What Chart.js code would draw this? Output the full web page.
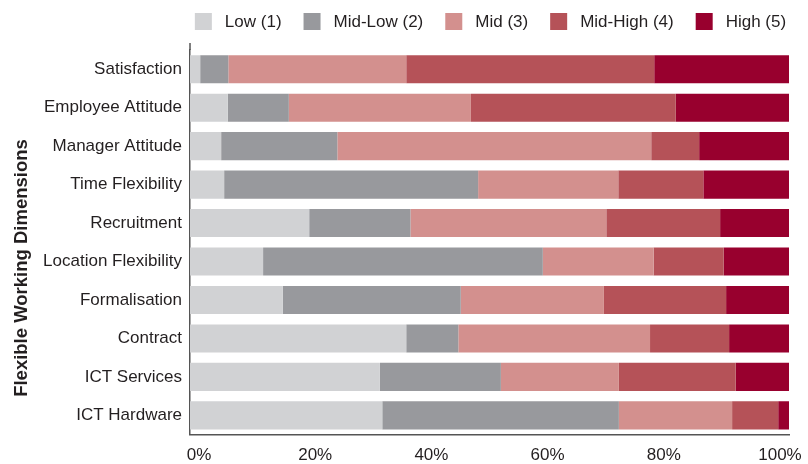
<!DOCTYPE html>
<html>
<head>
<meta charset="utf-8">
<script src="https://cdn.jsdelivr.net/npm/chart.js@4.4.1/dist/chart.umd.min.js"></script>
<style>
  html, body { margin: 0; padding: 0; background: #fff; }
  #dims { display: block; }
</style>
</head>
<body>
<canvas id="dims" width="808" height="464"></canvas>
<script>
// share of answers per dimension, in percent
var dimensions = ["Satisfaction", "Employee Attitude", "Manager Attitude", "Time Flexibility",
  "Recruitment", "Location Flexibility", "Formalisation", "Contract", "ICT Services", "ICT Hardware"];
var low     = [1.7, 6.3, 5.2, 5.7, 19.9, 12.2, 15.5, 36.1, 31.7, 32.1];
var midLow  = [4.7, 10.2, 19.4, 42.4, 16.9, 46.7, 29.7, 8.7, 20.2, 39.5];
var mid     = [29.7, 30.4, 52.4, 23.4, 32.7, 18.5, 23.9, 32.0, 19.7, 18.9];
var midHigh = [41.4, 34.2, 8.0, 14.2, 19.0, 11.7, 20.4, 13.2, 19.5, 7.7];
var high    = [22.5, 18.9, 15.0, 14.3, 11.5, 10.9, 10.5, 10.0, 8.9, 1.8];
var levels  = ["Low (1)", "Mid-Low (2)", "Mid (3)", "Mid-High (4)", "High (5)"];
var percentTicks = [0, 20, 40, 60, 80, 100];
var yTitle = "Flexible Working Dimensions";

var colours = ["#d1d2d4", "#98999d", "#d3908e", "#b55258", "#98002e"];
var inkColour = "#231f20";
var axisColour = "#555555";
var fontFamily = "'Liberation Sans', Arial, Helvetica, sans-serif";

Chart.defaults.font.family = fontFamily;
Chart.defaults.color = inkColour;

// legend row, y title and the short stub of the y axis above the bars
var decorations = {
  id: "decorations",
  afterDraw: function (chart) {
    var ctx = chart.ctx;
    var area = chart.chartArea;
    ctx.save();

    ctx.strokeStyle = axisColour;
    ctx.lineWidth = 1.5;
    ctx.beginPath();
    ctx.moveTo(area.left, area.top - 7);
    ctx.lineTo(area.left, area.top);
    ctx.stroke();

    ctx.font = "17px " + fontFamily;
    ctx.textBaseline = "middle";
    ctx.textAlign = "left";
    var box = 17, gap = 13, spacing = 22;
    var sets = chart.data.datasets;
    var widths = sets.map(function (d) { return ctx.measureText(d.label).width; });
    var total = widths.reduce(function (a, w) { return a + box + gap + w; }, 0) + spacing * (sets.length - 1);
    var x = (area.left + area.right) / 2 - total / 2 + 1;
    sets.forEach(function (d, i) {
      ctx.fillStyle = d.backgroundColor;
      ctx.fillRect(x, 13, box, box);
      ctx.fillStyle = inkColour;
      ctx.fillText(d.label, x + box + gap, 22);
      x += box + gap + widths[i] + spacing;
    });

    ctx.translate(22, 268);
    ctx.rotate(-Math.PI / 2);
    ctx.font = "bold 18.5px " + fontFamily;
    ctx.textAlign = "center";
    ctx.fillStyle = inkColour;
    ctx.fillText(yTitle, 0, 0);
    ctx.restore();
  }
};

var series = [low, midLow, mid, midHigh, high];

new Chart(document.getElementById("dims").getContext("2d"), {
  type: "bar",
  data: {
    labels: dimensions,
    datasets: series.map(function (values, i) {
      return {
        label: levels[i],
        data: values,
        backgroundColor: colours[i],
        borderWidth: 0,
        barPercentage: 0.73,
        categoryPercentage: 1
      };
    })
  },
  options: {
    indexAxis: "y",
    responsive: false,
    animation: false,
    layout: { padding: { top: 50, right: 19, bottom: -13, left: 0 } },
    plugins: {
      legend: { display: false },
      tooltip: { enabled: false }
    },
    scales: {
      x: {
        stacked: true,
        min: 0,
        max: 100,
        grid: { display: false, drawTicks: false },
        border: { display: true, color: axisColour, width: 1.5 },
        ticks: { display: false }
      },
      xLabels: {
        type: "linear",
        position: "bottom",
        min: -1.55,
        max: 101.55,
        grid: { display: false, drawTicks: false },
        border: { display: false },
        afterBuildTicks: function (scale) {
          scale.ticks = percentTicks.map(function (v) { return { value: v }; });
        },
        // the "100%" label may hang past the plot edge
        afterFit: function (scale) {
          scale.paddingLeft = 0;
          scale.paddingRight = 0;
        },
        ticks: {
          padding: 11,
          font: { size: 17 },
          color: inkColour,
          callback: function (v) { return v + "%"; }
        }
      },
      y: {
        stacked: true,
        afterFit: function (scale) { scale.width = 190; },
        grid: { display: false, drawTicks: false },
        border: { display: true, color: axisColour, width: 1.5 },
        ticks: { padding: 8, font: { size: 17 }, color: inkColour }
      }
    }
  },
  plugins: [decorations]
});
</script>
</body>
</html>
